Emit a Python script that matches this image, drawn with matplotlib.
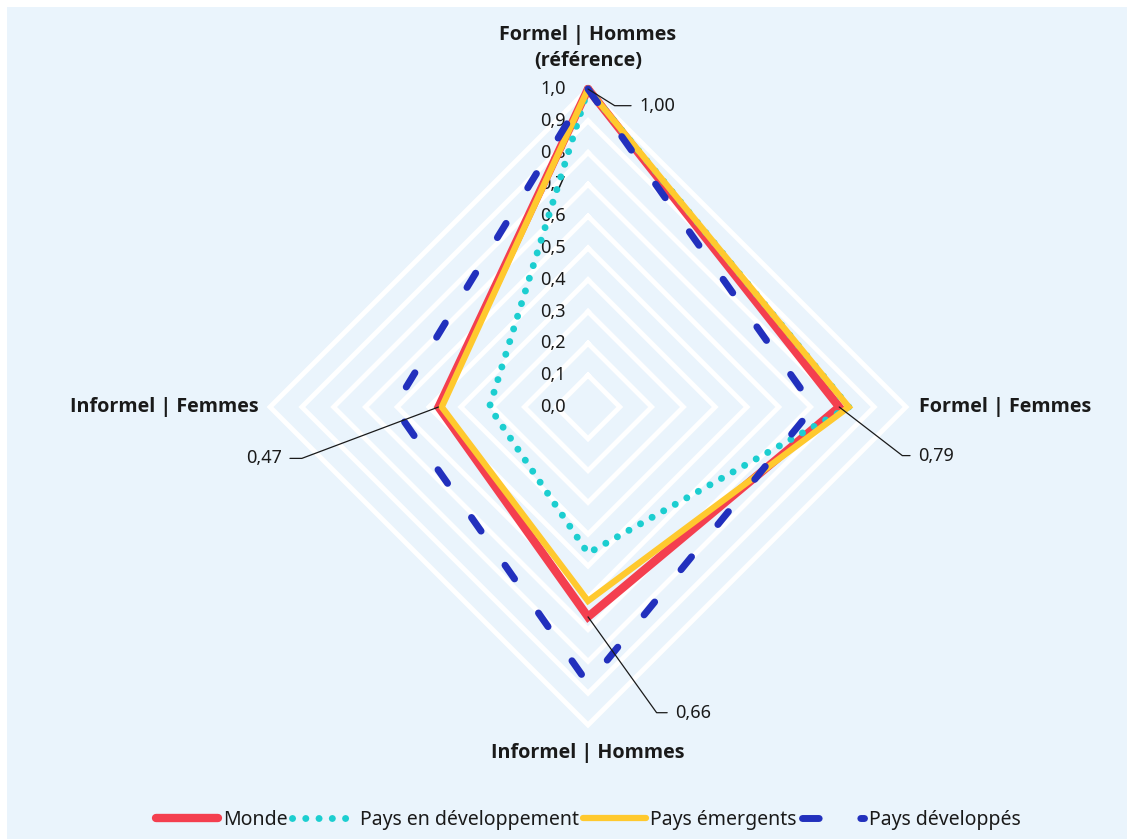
import numpy as np
import matplotlib.pyplot as plt
from matplotlib.patches import Rectangle

plt.rcParams['font.family'] = ['Noto Sans', 'DejaVu Sans']

categories = ['Formel | Hommes\n(référence)', 'Formel | Femmes',
              'Informel | Hommes', 'Informel | Femmes']
series_names = ['Monde', 'Pays en développement', 'Pays émergents', 'Pays développés']
monde = [1.00, 0.79, 0.66, 0.47]
pays_en_dev = [1.00, 0.82, 0.46, 0.31]
pays_emergents = [1.00, 0.82, 0.61, 0.46]
pays_developpes = [1.00, 0.71, 0.87, 0.61]
ring_levels = [0.1, 0.2, 0.3, 0.4, 0.5, 0.6, 0.7, 0.8, 0.9, 1.0]
tick_levels = [0.0, 0.1, 0.2, 0.3, 0.4, 0.5, 0.6, 0.7, 0.8, 0.9, 1.0]

bg = '#EAF4FC'
fig = plt.figure(figsize=(11.27, 8.39), dpi=100)
fig.patch.set_facecolor('white')
fig.patches.append(Rectangle((7 / 1127, 0), 1, 1 - 7 / 839, transform=fig.transFigure,
                             facecolor=bg, edgecolor='none', zorder=-10))

ax = fig.add_axes([0.2396, 0.1359, 0.5643, 0.7580], projection='polar')
ax.set_theta_offset(np.pi / 2)
ax.set_theta_direction(-1)
ax.set_ylim(0, 1)
ax.set_facecolor('none')
ax.grid(False)
ax.spines['polar'].set_visible(False)
ax.set_xticks([])
ax.set_yticks([])

angles = np.linspace(0, 2 * np.pi, len(categories), endpoint=False)
closed = np.append(angles, angles[0])


def close(vals):
    return np.append(vals, vals[0])


# diamond rings
for r in ring_levels:
    ax.plot(closed, [r] * len(closed), color='white', lw=3.5, clip_on=False,
            zorder=1, solid_joinstyle='miter')

# radial scale labels, left of the vertical axis
for r in tick_levels:
    ax.annotate(f'{r:.1f}'.replace('.', ','), xy=(0, r), xytext=(-25, 0),
                textcoords='offset points', ha='center', va='center',
                fontsize=13, color='#1a1a1a', zorder=2)

styles = [
    dict(color='#F43F4F', lw=6, solid_joinstyle='miter', solid_capstyle='round'),
    dict(color='#1CCED0', lw=5, linestyle=(0, (0.01, 1.9)), dash_capstyle='round'),
    dict(color='#FFC92E', lw=4.5, solid_joinstyle='miter', solid_capstyle='round'),
    dict(color='#2230BD', lw=5, linestyle=(0, (2.4, 6.0)), dash_capstyle='round'),
]
handles = []
for vals, name, st in zip([monde, pays_en_dev, pays_emergents, pays_developpes],
                          series_names, styles):
    line, = ax.plot(closed, close(vals), label=name, clip_on=False, zorder=3, **st)
    handles.append(line)

# category labels
bold = dict(fontsize=14.2, fontweight='bold', color='#1a1a1a',
            family=['Open Sans', 'DejaVu Sans'])
ax.text(angles[0], 1.128, categories[0], ha='center', va='center',
        linespacing=1.4, **bold)
ax.text(angles[1], 1.042, categories[1], ha='left', va='center', **bold)
ax.text(angles[2], 1.087, categories[2], ha='center', va='center', **bold)
ax.text(angles[3], 1.036, categories[3], ha='right', va='center', **bold)

# value labels for the world series, with leader lines
label_offsets = [(37, -12), (57, -35), (63, -69), (-113, -37)]
leader_angles = [-32, -37.6, -54.4, 20.6]
for th, v, off, la in zip(angles, monde, label_offsets, leader_angles):
    left = off[0] > 0
    ax.annotate(f'{v:.2f}'.replace('.', ','), xy=(th, v), xytext=off,
                textcoords='offset points', ha='left' if left else 'right',
                va='center', fontsize=13, color='#1a1a1a', zorder=5,
                arrowprops=dict(arrowstyle='-', color='#1a1a1a', lw=0.9,
                                shrinkA=4, shrinkB=0,
                                relpos=(0, 0.5) if left else (1, 0.5),
                                connectionstyle=f'angle,angleA=0,angleB={la},rad=0'))

fig.legend(handles, series_names, loc='center', bbox_to_anchor=(0.522, 0.0226),
           ncol=4, frameon=False, fontsize=14, handlelength=3.2,
           handletextpad=0.25, columnspacing=0.25, labelcolor='#1a1a1a')

fig.savefig('out.png', dpi=100, facecolor=fig.get_facecolor())
